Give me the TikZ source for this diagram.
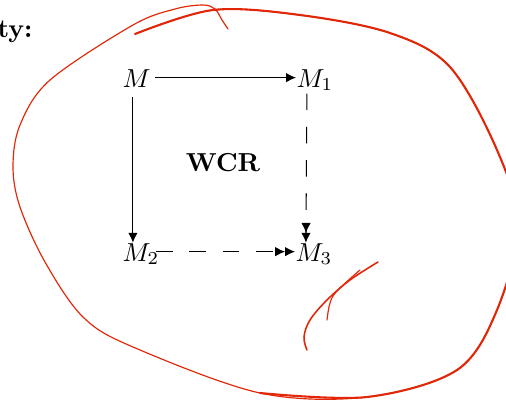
\documentclass[tikz,border=0pt]{standalone}
\usepackage{amsmath,amssymb}
\usepackage{tikz}
\usetikzlibrary{arrows.meta,positioning,calc}
\usepackage{xcolor}
\definecolor{penred}{RGB}{226,38,8}

\begin{document}
\begin{tikzpicture}[x=0.3846pt, y=-0.3846pt,
    obj/.style={inner sep=0pt, anchor=base west},
    arr/.style={-{Latex[length=3.8pt,width=3.6pt]}},
    darr/.style={-{Latex[length=3.8pt,width=3.6pt]Latex[length=3.8pt,width=3.6pt]},
                 dash pattern=on 6.4pt off 6.4pt},
    inkthick/.style={draw=penred, line width=0.8pt, line cap=round},
    inkthin/.style={draw=penred, line width=0.45pt, line cap=round}
]
    \clip (0,0) rectangle (506,401);

    % cropped heading
    \node[obj] (head) at (-3,37) {\textbf{ty:}};

    % the square of objects
    \node[obj] (M)  at (122,87)  {$M$};
    \node[obj] (M1) at (296,87)  {$M_1$};
    \node[obj] (M2) at (122,261) {$M_2$};
    \node[obj] (M3) at (295,261) {$M_3$};
    \node[font=\bfseries] (wcr) at (223,163) {WCR};

    \draw[arr, shorten <=1.5pt] ([yshift=3.6pt]M.base east) -- ([yshift=3.6pt]M1.base west);
    \draw[arr, shorten <=3.8pt] ([xshift=4.2pt]M.south west) -- ([xshift=4.2pt]M2.north west);
    \draw[darr, shorten <=0.8pt] ([xshift=4.2pt]M1.south west) -- ([xshift=4.2pt]M3.north west);
    \draw[darr, shorten <=-1.5pt] ([yshift=3.6pt]M2.base east) -- ([yshift=3.6pt]M3.base west);

    % freehand loop, whole stroke thin
    \draw[inkthin] plot[smooth, tension=0.55] coordinates {
        (135,34) (213,10) (300,15) (390,33) (450,67) (497,150) (518,225)
        (497,310) (457,370) (367,397) (260,393) (133,347) (83,317) (45,262)
        (20,207) (13,167) (20,125) (50,80) (133,25) (175,9) (203,5) (215,9)
        (222,20) (228,29)};
    % thick part on top
    \draw[inkthick] plot[smooth, tension=0.55] coordinates {
        (135,34) (213,10) (300,15) (390,33) (450,67) (497,150) (518,225)
        (497,310) (457,370) (367,397) (260,393)};

    % strokes near M_3
    \draw[inkthick, line width=0.6pt] plot[smooth, tension=0.6] coordinates {
        (378,262) (350,280) (327,300) (310,320) (304,337) (307,350)};
    \draw[inkthin] plot[smooth, tension=0.6] coordinates {
        (360,270) (337,291) (330,303) (327,320)};
\end{tikzpicture}
\end{document}
